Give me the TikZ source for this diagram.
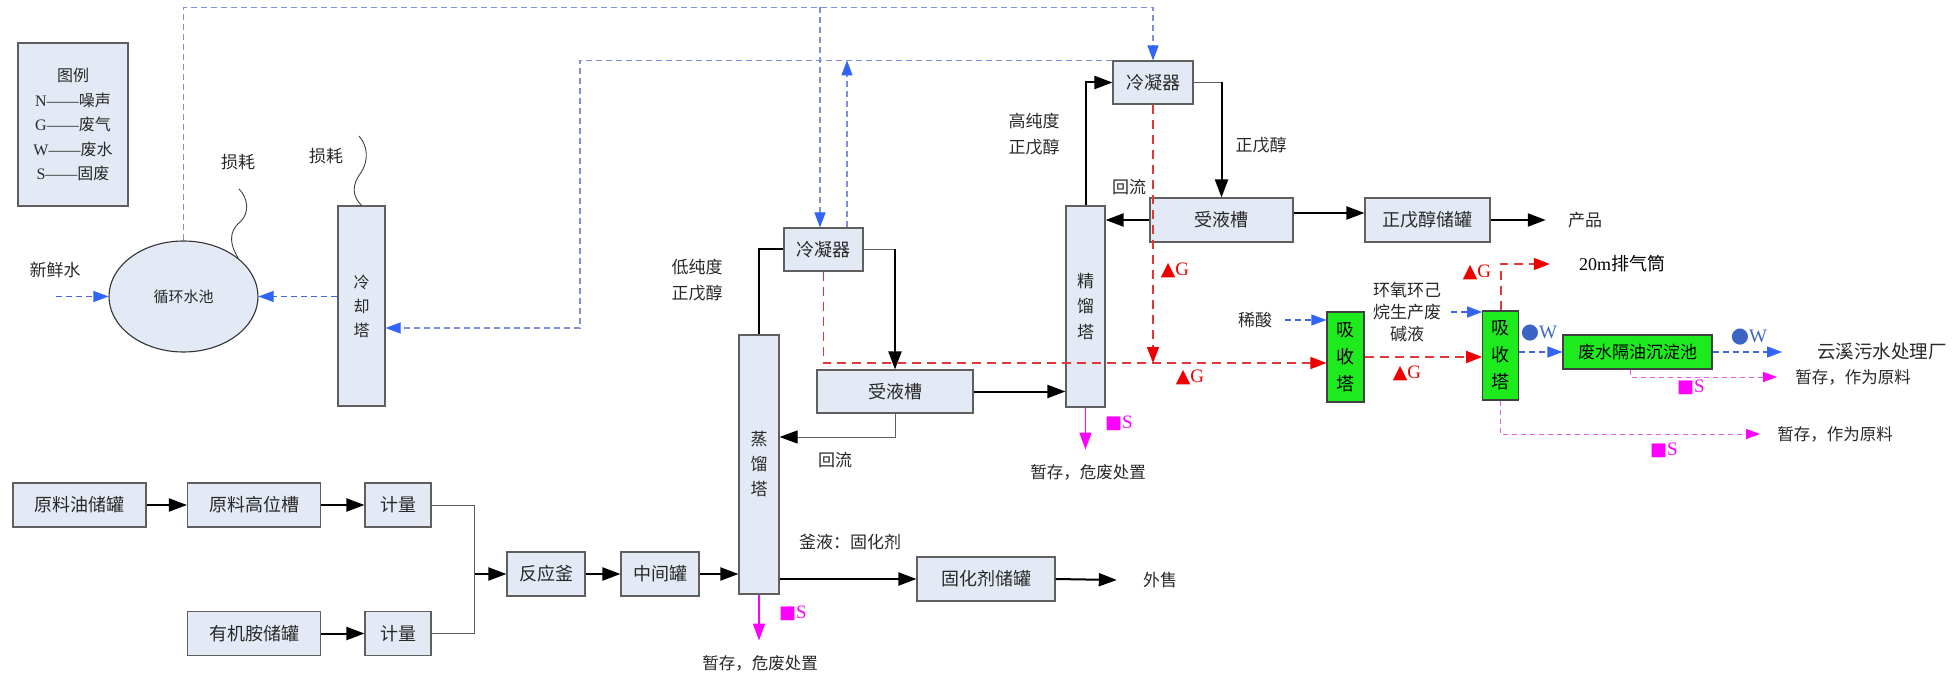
\documentclass[tikz,border=0pt]{standalone}
\usepackage{fontspec}
\setmainfont{Liberation Serif}
\newfontfamily\cjk{Noto Sans CJK SC}
\newfontfamily\symf{DejaVu Sans}
\usetikzlibrary{arrows.meta,shapes.geometric}
\definecolor{boxfill}{RGB}{228,234,245}
\definecolor{boxline}{RGB}{95,95,95}
\definecolor{gfill}{RGB}{30,235,30}
\definecolor{redl}{RGB}{225,55,55}
\definecolor{redh}{RGB}{238,0,0}
\definecolor{bluel}{RGB}{128,142,222}
\definecolor{blueh}{RGB}{50,100,245}
\definecolor{bluem}{RGB}{70,100,225}
\definecolor{wblue}{RGB}{60,100,195}
\definecolor{mag}{RGB}{255,0,255}
\definecolor{magl}{RGB}{230,90,230}
\definecolor{txt}{RGB}{40,40,40}
\tikzset{
  box/.style={draw=boxline, line width=1.1pt, fill=boxfill, inner sep=0pt, align=center,
    text=txt, font=\cjk\fontsize{18}{20}\selectfont},
  gbox/.style={box, fill=gfill, draw=black!75, text=black, font=\cjk\fontsize{18}{27}\selectfont},
  poolshape/.style={ellipse, draw=black!80, line width=1.1pt, fill=boxfill, inner sep=0pt,
    text=txt, font=\cjk\fontsize{15}{18}\selectfont},
  lbl/.style={text=txt, font=\cjk\fontsize{17}{26}\selectfont, inner sep=0pt, align=center},
  gm/.style={text=redh, inner sep=0pt, font=\rmfamily\fontsize{19}{20}\selectfont},
  wm/.style={text=wblue, inner sep=0pt, font=\rmfamily\fontsize{19}{20}\selectfont},
  smk/.style={text=mag, inner sep=0pt, font=\rmfamily\fontsize{19}{20}\selectfont},
  flow/.style={draw=black, line width=2pt, -{Triangle[length=18pt,width=13pt]}},
  flowline/.style={draw=black, line width=2pt},
  thinl/.style={draw=boxline, line width=1pt},
  thinflow/.style={draw=boxline, line width=1pt, -{Triangle[length=18pt,width=13pt,color=black]}},
  gas/.style={draw=redl, line width=1.5pt, dash pattern=on 9pt off 6pt,
    -{Triangle[length=16pt,width=12pt,color=redh]}},
  watl/.style={draw=bluel, line width=1.1pt, dash pattern=on 6pt off 4pt,
    -{Triangle[length=15pt,width=11pt,color=blueh]}},
  wat/.style={draw=bluem, line width=1.1pt, dash pattern=on 6pt off 4pt,
    -{Triangle[length=15pt,width=11pt,color=blueh]}},
  sw/.style={draw=mag, line width=1.5pt, -{Triangle[length=17pt,width=12pt]}},
  swd/.style={draw=magl, line width=1pt, dash pattern=on 5pt off 4pt,
    -{Triangle[length=14pt,width=10pt,color=mag]}},
  squig/.style={draw=black!75, line width=0.9pt},
}
\begin{document}
\begin{tikzpicture}[x=1pt,y=-1pt]
\fill[white] (0,0) rectangle (1959,676);
\useasboundingbox (0,0) rectangle (1959,676);

% ---------- nodes ----------
\node[box, minimum width=110pt, minimum height=163pt, font=\rmfamily\fontsize{16}{24.5}\selectfont]
  (legend) at (73,124.5) {{\cjk 图例}\\N——{\cjk 噪声}\\G——{\cjk 废气}\\W——{\cjk 废水}\\S——{\cjk 固废}};

\node[poolshape, minimum width=149pt, minimum height=111pt] (pool) at (183.5,296.5) {循环水池};
\node[box, minimum width=47pt, minimum height=200pt, font=\cjk\fontsize{16}{24}\selectfont]
  (tower) at (361.5,306) {冷\\却\\塔};

\node[box, minimum width=79pt, minimum height=43pt] (cond1) at (823.5,249.5) {冷凝器};
\node[box, minimum width=40pt, minimum height=259pt, font=\cjk\fontsize{17}{25}\selectfont]
  (col1) at (759,464.5) {蒸\\馏\\塔};
\node[box, minimum width=156pt, minimum height=43pt] (recv1) at (895,391.5) {受液槽};
\node[box, minimum width=39pt, minimum height=201pt, font=\cjk\fontsize{17}{25.5}\selectfont]
  (col2) at (1085.5,306.5) {精\\馏\\塔};
\node[box, minimum width=80pt, minimum height=43pt] (cond2) at (1153,82.5) {冷凝器};
\node[box, minimum width=143pt, minimum height=44pt] (recv2) at (1221.5,220) {受液槽};
\node[box, minimum width=125pt, minimum height=44pt] (store) at (1427.5,220) {正戊醇储罐};
\node[gbox, minimum width=37pt, minimum height=90pt] (abs1) at (1345.5,357) {吸\\收\\塔};
\node[gbox, minimum width=36pt, minimum height=89pt] (abs2) at (1500.75,355.5) {吸\\收\\塔};
\node[gbox, minimum width=149pt, minimum height=34pt, font=\cjk\fontsize{17}{20}\selectfont]
  (pond) at (1637.5,352) {废水隔油沉淀池};

\node[box, minimum width=133pt, minimum height=44pt] (rawoil) at (79.5,505) {原料油储罐};
\node[box, minimum width=133pt, minimum height=44pt] (hightank) at (254,505) {原料高位槽};
\node[box, minimum width=66pt, minimum height=44pt] (meter1) at (398,505) {计量};
\node[box, minimum width=133pt, minimum height=44pt] (amine) at (254,633.5) {有机胺储罐};
\node[box, minimum width=66pt, minimum height=44pt] (meter2) at (398,633.5) {计量};
\node[box, minimum width=78pt, minimum height=44pt] (reactor) at (546,574) {反应釜};
\node[box, minimum width=78pt, minimum height=44pt] (mid) at (660,574) {中间罐};
\node[box, minimum width=138pt, minimum height=44pt] (curing) at (986,579) {固化剂储罐};

% ---------- labels ----------
\node[lbl] (fresh) at (55,270) {新鲜水};
\node[lbl] (loss1) at (238,162) {损耗};
\node[lbl] (loss2) at (326,156) {损耗};
\node[lbl] (lowp) at (697,280) {低纯度\\正戊醇};
\node[lbl] (highp) at (1034,134) {高纯度\\正戊醇};
\node[lbl] (pent) at (1261,145) {正戊醇};
\node[lbl] (ref2) at (1129,187) {回流};
\node[lbl] (ref1) at (835,460) {回流};
\node[lbl] (kettle) at (850,542) {釜液：固化剂};
\node[lbl] (sale) at (1160,580) {外售};
\node[lbl] (prod) at (1585,220) {产品};
\node[lbl, text=black, font=\cjk\fontsize{18}{22}\selectfont] (stack) at (1622,264) {{\rmfamily 20m}排气筒};
\node[lbl] (acid) at (1255,320) {稀酸};
\node[lbl, font=\cjk\fontsize{17}{22}\selectfont] (alk) at (1407,312) {环氧环己\\烷生产废\\碱液};
\node[lbl, font=\cjk\fontsize{18.5}{22}\selectfont] (sew) at (1882,352) {云溪污水处理厂};
\node[lbl, font=\cjk\fontsize{16.5}{20}\selectfont] (s1) at (1853,377) {暂存，作为原料};
\node[lbl, font=\cjk\fontsize{16.5}{20}\selectfont] (s2) at (1835,434) {暂存，作为原料};
\node[lbl, font=\cjk\fontsize{16.5}{20}\selectfont] (hw1) at (1088,472) {暂存，危废处置};
\node[lbl, font=\cjk\fontsize{16.5}{20}\selectfont] (hw2) at (760,663) {暂存，危废处置};

\node[gm] (g1) at (1175,270) {{\symf\fontsize{19}{20}\selectfont ▲}G};
\node[gm] (g2) at (1190,377) {{\symf\fontsize{19}{20}\selectfont ▲}G};
\node[gm] (g3) at (1407,373) {{\symf\fontsize{19}{20}\selectfont ▲}G};
\node[gm] (g4) at (1477,272) {{\symf\fontsize{19}{20}\selectfont ▲}G};
\node[wm] (w1) at (1539,333) {{\symf\fontsize{21}{22}\selectfont ●}W};
\node[wm] (w2) at (1749,337) {{\symf\fontsize{21}{22}\selectfont ●}W};
\node[smk] (sm1) at (1119,423) {{\symf\fontsize{18}{20}\selectfont ■}S};
\node[smk] (sm2) at (793,613) {{\symf\fontsize{18}{20}\selectfont ■}S};
\node[smk] (sm3) at (1691,387) {{\symf\fontsize{18}{20}\selectfont ■}S};
\node[smk] (sm4) at (1664,450) {{\symf\fontsize{18}{20}\selectfont ■}S};

% ---------- helper coordinates ----------
\coordinate (top) at (0,7.5);
\coordinate (fw) at (56,296.5);
\coordinate (rt) at (580,328);
\coordinate (j) at (474.5,574);
\coordinate (c1in) at ([xshift=-3.5pt]cond1.north);
\coordinate (c1out) at ([xshift=23.5pt]cond1.north);
\coordinate (gin) at ([yshift=-6pt]abs1.west);

% ---------- squiggles ----------
\draw[squig] (pool.35) .. controls (230,245) and (228,232) .. (240,222)
  .. controls (250,213) and (248,198) .. (239,189);
\draw[squig] (tower.north) .. controls (352,196) and (352,185) .. (360,174)
  .. controls (370,160) and (367,145) .. (359,136);

% ---------- water (blue dashed) ----------
\draw[wat] (fw) -- (pool.west);
\draw[wat] (tower.west |- pool.east) -- (pool.east);
\draw[watl] (pool.north) -- (pool.north |- top) -| (cond2.north);
\draw[watl] (c1in |- top) -- (c1in);
\draw[watl] (c1out) -- (c1out |- cond2.north);
\draw[watl] (cond2.north west) -| (rt) -- ([yshift=-22pt]tower.east);
\draw[wat] ([xshift=13pt]acid.east) -- (acid.east -| abs1.west);
\draw[wat] ([xshift=10pt]alk.east) -- (alk.east -| abs2.west);
\draw[wat] (abs2.east |- pond.west) -- (pond.west);
\draw[wat] (pond.east) -- ([xshift=-35pt]sew.west);

% ---------- process (black) ----------
\draw[flow] (rawoil) -- (hightank);
\draw[flow] (hightank) -- (meter1);
\draw[flow] (amine) -- (meter2);
\draw[thinl] (meter1.east) -| (j) |- (meter2.east);
\draw[flow] (j) -- (reactor.west);
\draw[flow] (reactor) -- (mid);
\draw[flow] (mid.east) -- (mid.east -| col1.west);
\draw[flow] (col1.east |- curing.west) -- (curing.west);
\draw[flow] (curing.east) -- ([xshift=-26pt]sale.west);
\draw[flowline] (cond1.west) -| (col1.north);
\draw[thinl] (cond1.east) -- (cond1.east -| recv1.north);
\draw[flow] (cond1.east -| recv1.north) -- (recv1.north);
\draw[flow] (recv1.east) -- (recv1.east -| col2.west);
\draw[thinflow] (recv1.south) |- ([yshift=27.5pt]col1.east);
\draw[flow] (col2.north) |- (cond2.west);
\draw[thinl] (cond2.east) -- (cond2.east -| recv2.north);
\draw[flow] (cond2.east -| recv2.north) -- (recv2.north);
\draw[flow] (recv2.west) -- (recv2.west -| col2.east);
\draw[flow] ([yshift=7pt]recv2.east) -- ([yshift=7pt]store.west);
\draw[flow] (store.east) -- ([xshift=-22pt]prod.west);

% ---------- gas (red dashed) ----------
\draw[gas] (cond1.south) |- (gin);
\draw[gas] (cond2.south) -- (cond2.south |- gin);
\draw[gas] (abs1.east) -- (abs1.east -| abs2.west);
\draw[gas] (abs2.north) |- ([xshift=-29pt]stack.west);

% ---------- solids (magenta) ----------
\draw[sw] (col2.south) -- ++(0,42);
\draw[sw] (col1.south) -- ++(0,46);
\draw[swd] ([xshift=-7.5pt]pond.south) |- ([xshift=-18pt]s1.west);
\draw[swd] (abs2.south) |- ([xshift=-17pt]s2.west);
\end{tikzpicture}
\end{document}
